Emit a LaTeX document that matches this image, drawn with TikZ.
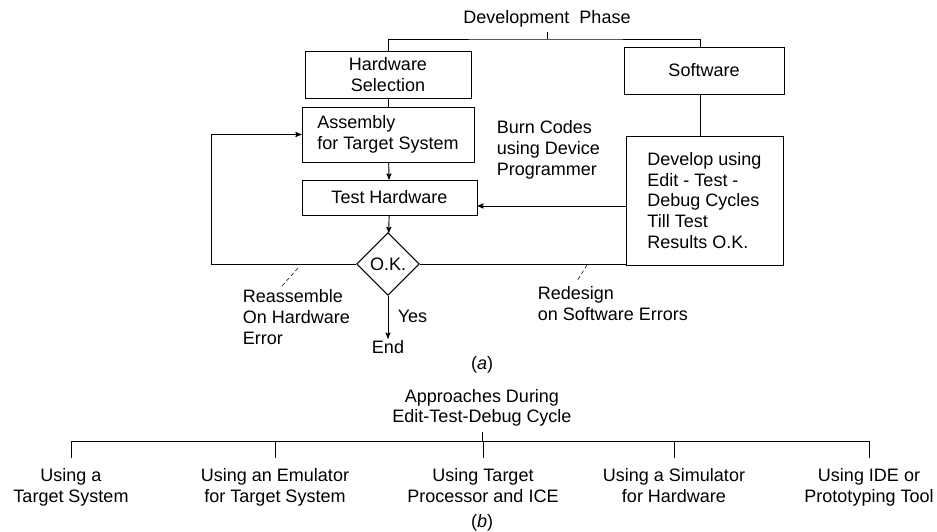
\documentclass[tikz,border=0pt]{standalone}
\usepackage{fontspec}
\setmainfont{Liberation Sans}
\usetikzlibrary{shapes.geometric, arrows}

\begin{document}
\begin{tikzpicture}[x=0.75pt, y=-0.75pt, font=\fontsize{13.5}{15.5}\selectfont, line width=0.7pt, >=stealth']
        \tikzstyle{box} = [rectangle, draw=black, inner sep=0pt, text centered]
        \tikzstyle{decision} = [diamond, aspect=1, draw=black, inner sep=0pt, minimum width=47pt, minimum height=47pt]
        \tikzstyle{label} = [inner sep=1pt, align=left]
        \tikzstyle{leader} = [densely dashed, line width=0.4pt]
        \useasboundingbox (0,0) rectangle (937,531);

        % (a) development phase
        \node (phase) at (547,19) {Development\ \ Phase};
        \coordinate (split) at (547,39);
        \node (hwsel) [box, minimum width=124.5pt, minimum height=35.25pt, align=center] at (388,74.5) {Hardware\\Selection};
        \node (sw) [box, minimum width=120pt, minimum height=35.25pt] at (704,70.5) {Software};
        \node (asm) [box, minimum width=129pt, minimum height=41.25pt, align=left] at (388,134.5) {Assembly\\for Target System};
        \node (test) [box, minimum width=131.25pt, minimum height=26.25pt] at (389.5,197.5) {Test Hardware};
        \node (dev) [box, minimum width=117.75pt, minimum height=96.75pt, align=left] at (704.5,200.5) {Develop using\\Edit - Test -\\Debug Cycles\\Till Test\\Results O.K.};
        \node (ok) [decision] at (388,264) {O.K.};
        \node (end) [inner sep=1pt] at (388,347) {End};
        \node (yes) [label, anchor=west] at (396,316) {Yes};
        \node (burn) [label, anchor=west] at (495,150) {Burn Codes\\using Device\\Programmer};
        \node (reasm) [label, anchor=north west] at (241,288) {Reassemble\\On Hardware\\Error};
        \node (redes) [label, anchor=north west] at (536,285) {Redesign\\on Software Errors};
        \node (capa) at (482,365) {(\textit{a})};

        \draw (phase.south) -- (split);
        \draw (hwsel.north) |- (split) -| (sw.north -| 700,0);
        \draw (hwsel) -- (asm);
        \draw (sw.south -| 700,0) -- (dev.north -| 700,0);
        \draw [->] (asm) -- (test);
        \draw [->] (test) -- (ok);
        \draw [->] (ok.west) -- ++(-145,0) |- (asm.west);
        \draw (ok.east) -- (ok.east -| dev.west);
        \draw [->] (dev.west |- 0,206) -- (test.east |- 0,206);
        \draw [->] (ok.south) -- (end.north);

        % leaders
        \coordinate (la) at (298,268);
        \coordinate (lb) at (282,286);
        \coordinate (lc) at (587,265);
        \coordinate (ld) at (577,281);
        \draw [leader] (la) -- (lb);
        \draw [leader] (lc) -- (ld);

        % (b) approaches
        \node (appr) [align=center] at (482,408) {Approaches During\\Edit-Test-Debug Cycle};
        \coordinate (bus) at (482,441);
        \node (c1) [align=center, anchor=north] at (71,464) {Using a\\Target System};
        \node (c2) [align=center, anchor=north] at (275,464) {Using an Emulator\\for Target System};
        \node (c3) [align=center, anchor=north] at (483,464) {Using Target\\Processor and ICE};
        \node (c4) [align=center, anchor=north] at (674,464) {Using a Simulator\\for Hardware};
        \node (c5) [align=center, anchor=north] at (869,464) {Using IDE or\\Prototyping Tool};
        \node (capb) at (482,523) {(\textit{b})};

        \draw (appr.south) -- (appr.south |- bus);
        \draw (c1.north |- bus) -- (c5.north |- bus);
        \foreach \c in {c1,c2,c3,c4,c5}
            \draw (\c.north |- bus) -- ++(0,17);
    \end{tikzpicture}
\end{document}
